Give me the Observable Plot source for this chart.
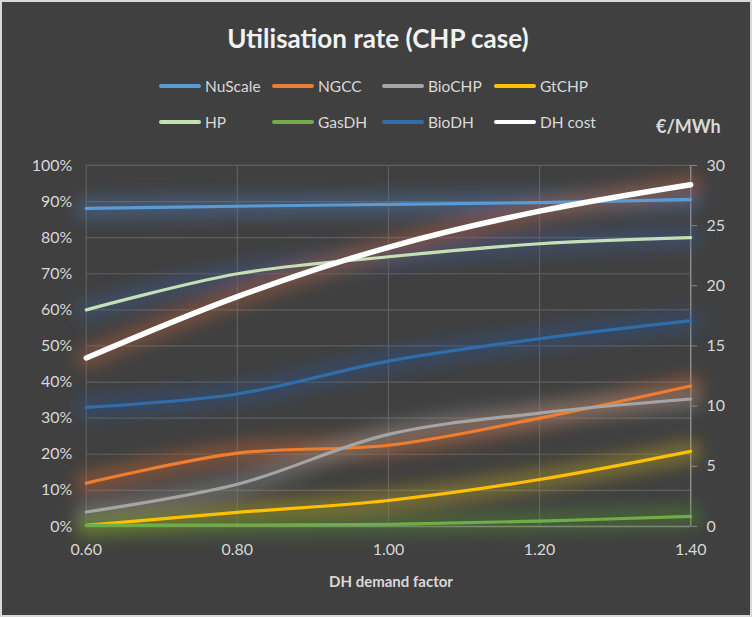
<!DOCTYPE html>
<html>
<head>
<meta charset="utf-8">
<script src="https://cdn.jsdelivr.net/npm/d3@7"></script>
<script src="https://cdn.jsdelivr.net/npm/@observablehq/plot@0.6"></script>
<style>
  body { margin: 0; background: #ffffff; }
  #chart { position: relative; width: 748px; height: 613px; background: #404040; border: 2px solid #d9d9d9; overflow: hidden; font-family: Lato, "Open Sans", sans-serif; color: #d9d9d9; }
  #title { position: absolute; left: 0; width: 752px; top: 20px; text-align: center; font-size: 26px; font-weight: bold; color: #f2f2f2; }
  .leg { position: absolute; display: flex; align-items: center; font-size: 15.5px; color: #d9d9d9; }
  .sw { width: 42px; height: 4px; margin-right: 4px; border-radius: 2px; }
  #unit { position: absolute; left: 654px; top: 113px; font-size: 18px; font-weight: bold; color: #d9d9d9; }
  #xlabel { position: absolute; left: 0; width: 778px; top: 570px; text-align: center; font-size: 15px; font-weight: bold; color: #d9d9d9; }
  #plot { position: absolute; left: -2px; top: 138px; }
</style>
</head>
<body>
<div id="chart">
  <div id="title">Utilisation rate (CHP case)</div>
  <div id="legend"></div>
  <div id="unit">€/MWh</div>
  <div id="plot"></div>
  <div id="xlabel">DH demand factor</div>
</div>
<script>
// ---- data ----
const demandFactor = [0.6, 0.8, 1.0, 1.2, 1.4];
const NuScale = [0.881, 0.887, 0.892, 0.897, 0.906];
const NGCC    = [0.120, 0.203, 0.225, 0.300, 0.389];
const BioCHP  = [0.040, 0.117, 0.255, 0.314, 0.353];
const GtCHP   = [0.003, 0.039, 0.072, 0.130, 0.208];
const HP      = [0.600, 0.700, 0.747, 0.783, 0.800];
const GasDH   = [0.003, 0.004, 0.006, 0.015, 0.028];
const BioDH   = [0.330, 0.367, 0.458, 0.520, 0.570];
const DHcost  = [14.0, 19.1, 23.2, 26.2, 28.4]; // €/MWh, right axis
const seriesNames = ["NuScale", "NGCC", "BioCHP", "GtCHP", "HP", "GasDH", "BioDH", "DH cost"];
const seriesColors = ["#5B9BD5", "#ED7D31", "#A5A5A5", "#FFC000", "#C5E0B4", "#70AD47", "#2F6EAA", "#FFFFFF"];
const glowColors = ["#4a78b0", "#c8652a", "#8a8a8a", "#b8a020", "#3c5a90", "#4f8a30", "#2a5590", "#b0603a"];
const leftTicks = [0, 0.1, 0.2, 0.3, 0.4, 0.5, 0.6, 0.7, 0.8, 0.9, 1.0];
const rightTicks = [0, 5, 10, 15, 20, 25, 30];
const rightMax = 30;

// ---- build table ----
const seriesValues = [NuScale, NGCC, BioCHP, GtCHP, HP, GasDH, BioDH, DHcost.map(v => v / rightMax)];
const rows = [];
seriesNames.forEach((name, i) => {
  demandFactor.forEach((x, j) => rows.push({series: name, x, y: seriesValues[i][j], glow: glowColors[i]}));
});
const thin = rows.filter(d => d.series !== "DH cost");
const thick = rows.filter(d => d.series === "DH cost");

// ---- legend ----
const legend = document.getElementById("legend");
const legPos = [[157, 84], [270, 84], [380, 84], [492, 84], [157, 120], [270, 120], [380, 120], [492, 120]];
seriesNames.forEach((n, i) => {
  const el = document.createElement("div");
  el.className = "leg";
  el.style.left = legPos[i][0] + "px";
  el.style.top = (legPos[i][1] - 11) + "px";
  el.style.height = "22px";
  el.innerHTML = `<div class="sw" style="background:${seriesColors[i]}"></div><span>${n}</span>`;
  legend.appendChild(el);
});

// ---- plot ----
const plot = Plot.plot({
  width: 752,
  height: 470,
  marginTop: 25,
  marginBottom: 83,
  marginLeft: 86,
  marginRight: 60,
  style: {background: "transparent", color: "#d9d9d9", fontFamily: "Lato, 'Open Sans', sans-serif", fontSize: "16px"},
  x: {domain: [0.6, 1.4]},
  y: {domain: [0, 1]},
  color: {domain: seriesNames, range: seriesColors},
  marks: [
    Plot.gridY(leftTicks, {stroke: "#5f5f5f", strokeOpacity: 1, strokeWidth: 1.2}),
    Plot.gridX(demandFactor, {stroke: "#5f5f5f", strokeOpacity: 1, strokeWidth: 1.2}),
    Plot.ruleY([0], {stroke: "#8a8a8a", strokeWidth: 1.5}),
    Plot.ruleX([1.4], {stroke: "#8a8a8a", strokeWidth: 1.5}),
    Plot.axisY(leftTicks, {anchor: "left", tickFormat: d3.format(".0%"), tickSize: 0, tickPadding: 14, label: null, fill: "#d9d9d9"}),
    Plot.axisY(rightTicks.map(v => v / rightMax), {anchor: "right", tickFormat: d => Math.round(d * rightMax), tickSize: 6, tickPadding: 10, stroke: "#8a8a8a", label: null, fill: "#d9d9d9"}),
    Plot.axisX(demandFactor, {anchor: "bottom", tickFormat: d3.format(".2f"), tickSize: 0, tickPadding: 17, label: null, fill: "#d9d9d9"}),
    // glow
    Plot.line(rows, {x: "x", y: "y", z: "series", stroke: d => d.glow, strokeWidth: 22, strokeOpacity: 0.45, curve: "catmull-rom", className: "glow"}),
    Plot.line(thin, {x: "x", y: "y", z: "series", stroke: "series", strokeWidth: 3.2, curve: "catmull-rom"}),
    Plot.line(thick, {x: "x", y: "y", z: "series", stroke: "series", strokeWidth: 5.5, curve: "catmull-rom"})
  ]
});
document.getElementById("plot").appendChild(plot);
const svg = d3.select(plot);
svg.insert("defs", ":first-child").html('<filter id="blur" x="-20%" y="-50%" width="140%" height="200%"><feGaussianBlur stdDeviation="8"/></filter>');
svg.selectAll("g.glow").attr("filter", "url(#blur)");
</script>
</body>
</html>
